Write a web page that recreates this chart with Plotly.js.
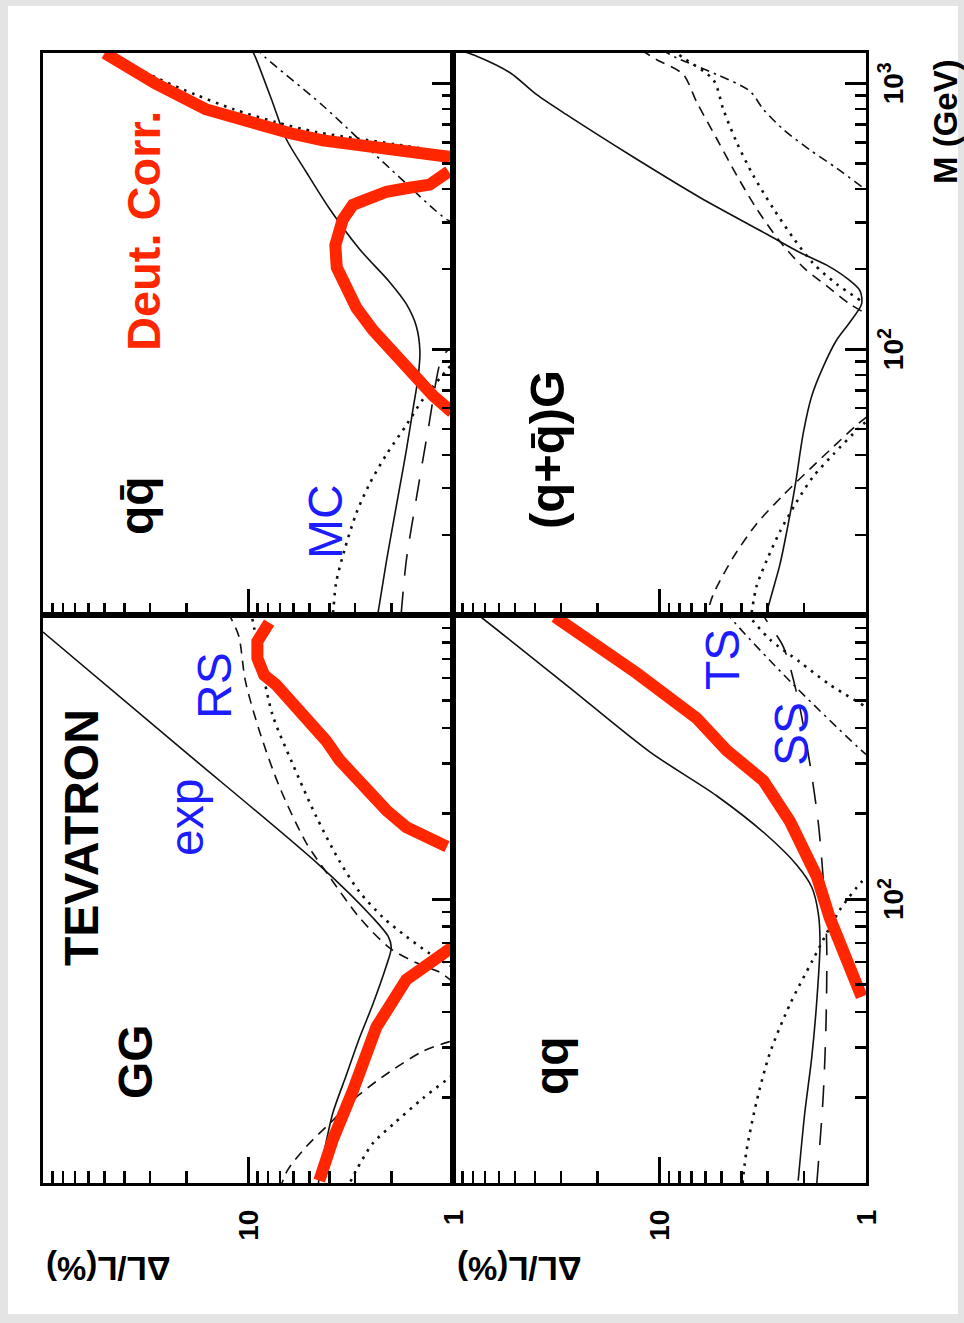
<!DOCTYPE html>
<html>
<head>
<meta charset="utf-8">
<script src="https://cdn.plot.ly/plotly-3.0.1.min.js"></script>
<style>
  html, body { margin: 0; padding: 0; width: 964px; height: 1323px; overflow: hidden; background: #e4e4e4; }
  #sheet { position: absolute; left: 8px; top: 6px; width: 950px; height: 1308px; background: #ffffff; }
  /* the figure is laid out landscape and turned a quarter turn counter-clockwise */
  #chart { position: absolute; left: 0; top: 0; width: 1323px; height: 964px;
           transform-origin: 0 0; transform: translateY(1323px) rotate(-90deg); }
</style>
</head>
<body>
<div id="sheet"></div>
<div id="chart"></div>
<script>
// ---------------- axis ticks ----------------
const massTicksLeft  = [100];
const massTextLeft   = ['10<sup>2</sup>'];
const massTicksRight = [100, 1000];
const massTextRight  = ['10<sup>2</sup>', '10<sup>3</sup>'];
const massMinor      = [20, 30, 40, 50, 60, 70, 80, 90, 200, 300, 400, 500, 600, 700, 800, 900];
const lumTicks       = [1, 10];
const lumText        = ['1', '10'];
const lumMinor       = [2, 3, 4, 5, 6, 7, 8, 9, 20, 30, 40, 50, 60, 70, 80, 90];

// ---------------- GG ----------------
const ggExpM     = [9.8, 10.5, 13.0, 17.6, 23.9, 32.4, 42.6, 57.8, 67.3, 73.8, 85.9, 131.6, 339, 871];
const ggExpDL    = [4.55, 4.49, 4.24, 3.86, 3.32, 2.86, 2.46, 2.12, 2.00, 2.07, 2.46, 4.49, 21.2, 100];
const ggDashUpM  = [51, 55.2, 59.6, 67.3, 86, 120, 158, 250, 394, 586, 845, 985, 1050];
const ggDashUpDL = [1.0, 1.16, 1.51, 2.04, 2.86, 4.01, 5.21, 7.05, 8.83, 10.3, 11.1, 12.2, 12.8];
const ggDashLoM  = [9.5, 11.1, 13.4, 16.6, 20.5, 24.6, 29.1, 31.4, 32];
const ggDashLoDL = [7.0, 6.41, 5.21, 3.86, 2.86, 2.04, 1.40, 1.05, 0.95];
const ggDotUpM   = [57.8, 64.3, 73.8, 86, 106, 136, 196, 300, 446, 683, 970, 1050];
const ggDotUpDL  = [1.01, 1.30, 1.69, 2.19, 2.86, 3.58, 4.66, 6.07, 7.60, 8.67, 9.53, 9.8];
const ggDotLoM   = [9.5, 11.1, 13.8, 16.1, 19.9, 23.9, 24.5];
const ggDotLoDL  = [3.3, 2.96, 2.46, 1.96, 1.40, 1.01, 0.97];
const ggCorrUpM  = [153, 179, 205, 258, 309, 361, 453, 569, 614, 705, 807, 940];
const ggCorrUpDL = [1.07, 1.69, 2.11, 2.86, 3.58, 4.16, 5.42, 7.31, 8.34, 9.0, 9.0, 7.89];
const ggCorrLoM  = [10.2, 14.2, 21.1, 35.5, 52, 66.4, 68];
const ggCorrLoDL = [4.49, 3.86, 3.08, 2.36, 1.69, 1.09, 1.0];

// ---------------- q qbar ----------------
const qqbExpM     = [10.2, 16.0, 22.0, 30.2, 41.5, 60.8, 78.4, 98, 122, 148, 179, 238, 338, 465, 620, 851, 1247, 1320];
const qqbExpDL    = [2.32, 2.11, 1.96, 1.82, 1.69, 1.56, 1.48, 1.45, 1.51, 1.69, 2.04, 2.86, 4.01, 5.21, 6.53, 7.60, 9.17, 9.5];
const qqbDashDotM  = [300, 307, 480, 825, 1247, 1350];
const qqbDashDotDL = [0.98, 1.07, 2.04, 4.32, 8.19, 9.1];
const qqbDotUpM   = [537, 554, 589, 620, 656, 714, 798, 906, 1047, 1227, 1350];
const qqbDotUpDL  = [1.0, 1.18, 1.89, 2.96, 4.66, 7.31, 11.7, 18.0, 27.8, 41.3, 50];
const qqbDotLoM   = [9.5, 10.1, 13.2, 17.6, 24.2, 31.2, 40.2, 51.8, 64.8, 83.6, 90];
const qqbDotLoDL  = [3.95, 3.86, 3.72, 3.38, 2.96, 2.55, 2.11, 1.69, 1.40, 1.07, 0.98];
const qqbLongM    = [10.1, 16.0, 27.4, 50.2, 91.8, 100];
const qqbLongDL   = [1.79, 1.69, 1.51, 1.32, 1.14, 1.05];
const qqbCorrUpM  = [528, 554, 572, 610, 650, 726, 799, 1000, 1208, 1300];
const qqbCorrUpDL = [1.03, 1.69, 2.46, 4.32, 6.29, 10.3, 16.1, 28.4, 44.6, 50];
const qqbCorrLoM  = [466, 416, 403, 391, 361, 349, 307, 246, 203, 173, 143, 118, 101, 81, 66.8, 57.9];
const qqbCorrLoDL = [1.05, 1.30, 1.69, 2.11, 2.75, 3.08, 3.45, 3.75, 3.69, 3.38, 2.96, 2.46, 2.04, 1.62, 1.25, 1.01];

// ---------------- q q ----------------
const qqExpM      = [10.2, 17.6, 27.8, 44.0, 69.4, 88.5, 110, 132, 168, 231, 329, 578, 1000, 1100];
const qqExpDL     = [2.13, 1.98, 1.83, 1.73, 1.67, 1.70, 1.83, 2.17, 3.03, 5.29, 11.1, 29.2, 75.4, 90];
const qqCorrM     = [45.3, 86, 120, 187, 261, 334, 433, 624, 985];
const qqCorrDL    = [1.05, 1.50, 1.73, 2.33, 3.14, 4.73, 6.61, 12.9, 32.1];
const qqDotLoM    = [10.0, 13.0, 19.3, 28.7, 42.7, 61.5, 91.4, 115, 120];
const qqDotLoDL   = [3.96, 3.79, 3.39, 2.92, 2.33, 1.80, 1.34, 1.05, 0.98];
const qqDotUpM    = [481, 569, 683, 820, 1000, 1050];
const qqDotUpDL   = [1.03, 1.50, 2.09, 2.92, 3.72, 3.9];
const qqDashDotM  = [320, 329, 569, 985, 1050];
const qqDashDotDL = [0.98, 1.03, 2.25, 4.56, 4.8];
const qqLongM     = [10.0, 20.5, 37.8, 69.4, 110, 184, 300, 503, 771, 955, 1050];
const qqLongDL    = [1.73, 1.61, 1.56, 1.55, 1.60, 1.70, 1.87, 2.13, 2.51, 3.03, 3.3];

// ---------------- (q+qbar) G ----------------
const qgExpM      = [10.2, 12.0, 15.5, 20.6, 30.2, 48.6, 66.8, 86, 108, 126, 148, 166, 185, 207, 231, 271, 372, 528, 762, 906, 1096, 1265, 1320];
const qgExpDL     = [3.03, 2.86, 2.61, 2.42, 2.21, 2.01, 1.83, 1.61, 1.39, 1.20, 1.05, 1.07, 1.24, 1.55, 2.09, 3.03, 6.37, 13.4, 28.2, 39.3, 52.9, 76.7, 90];
const qgDashUpM   = [139, 148, 173, 203, 254, 338, 451, 620, 851, 1080, 1227, 1320];
const qgDashUpDL  = [1.05, 1.20, 1.55, 2.01, 2.61, 3.39, 4.23, 5.29, 6.61, 7.68, 10.3, 12];
const qgDotUpM    = [153, 176, 210, 262, 338, 451, 600, 798, 1030, 1247, 1320];
const qgDotUpDL   = [1.07, 1.39, 1.80, 2.25, 2.81, 3.52, 4.23, 4.91, 5.48, 7.68, 8.5];
const qgDashDotM  = [409, 480, 562, 670, 798, 935, 1080, 1247, 1320];
const qgDashDotDL = [1.05, 1.39, 1.87, 2.51, 3.14, 3.65, 5.29, 8.26, 9.5];
const qgDashLoM   = [9.5, 10.1, 12.0, 16.5, 22.0, 28.3, 35.4, 42.9, 51.8, 56];
const qgDashLoDL  = [6.1, 5.91, 5.48, 4.39, 3.39, 2.51, 1.87, 1.44, 1.11, 0.98];
const qgDotLoM    = [10.2, 12.8, 16.0, 20.6, 26.6, 33.2, 40.2, 50.2, 54];
const qgDotLoDL   = [3.58, 3.39, 3.03, 2.61, 2.17, 1.80, 1.44, 1.09, 0.98];

// ---------------- styling ----------------
const FONT = 'Liberation Sans, Arial, Helvetica, sans-serif';
const RED = '#ff2600';
const BLUE = '#1c1cff';
const STYLE = {
  solid:    { color: '#111', width: 1.6, dash: 'solid' },
  dash:     { color: '#111', width: 1.6, dash: '10px,7px' },
  longdash: { color: '#111', width: 1.6, dash: '22px,16px' },
  dot:      { color: '#111', width: 2.6, dash: '2.6px,6px' },
  dashdot:  { color: '#111', width: 1.6, dash: '9px,5px,2.5px,5px' }
};

const panels = {
  gg:  ['x', 'y'],
  qqb: ['x2', 'y2'],
  qq:  ['x3', 'y3'],
  qg:  ['x4', 'y4']
};

function curve(panel, m, dl, style) {
  return {
    type: 'scatter', mode: 'lines', x: m, y: dl,
    xaxis: panels[panel][0], yaxis: panels[panel][1],
    line: Object.assign({ shape: 'spline', smoothing: 0.8 }, STYLE[style]),
    hoverinfo: 'skip'
  };
}
function corr(panel, m, dl) {
  return {
    type: 'scatter', mode: 'lines', x: m, y: dl,
    xaxis: panels[panel][0], yaxis: panels[panel][1],
    line: { color: RED, width: 12, shape: 'linear' },
    hoverinfo: 'skip'
  };
}

const traces = [
  curve('gg', ggExpM, ggExpDL, 'solid'),
  curve('gg', ggDashUpM, ggDashUpDL, 'dash'),
  curve('gg', ggDashLoM, ggDashLoDL, 'dash'),
  curve('gg', ggDotUpM, ggDotUpDL, 'dot'),
  curve('gg', ggDotLoM, ggDotLoDL, 'dot'),

  curve('qqb', qqbExpM, qqbExpDL, 'solid'),
  curve('qqb', qqbDashDotM, qqbDashDotDL, 'dashdot'),
  curve('qqb', qqbDotUpM, qqbDotUpDL, 'dot'),
  curve('qqb', qqbDotLoM, qqbDotLoDL, 'dot'),
  curve('qqb', qqbLongM, qqbLongDL, 'longdash'),

  curve('qq', qqExpM, qqExpDL, 'solid'),
  curve('qq', qqDotLoM, qqDotLoDL, 'dot'),
  curve('qq', qqDotUpM, qqDotUpDL, 'dot'),
  curve('qq', qqDashDotM, qqDashDotDL, 'dashdot'),
  curve('qq', qqLongM, qqLongDL, 'longdash'),

  curve('qg', qgExpM, qgExpDL, 'solid'),
  curve('qg', qgDashUpM, qgDashUpDL, 'dash'),
  curve('qg', qgDotUpM, qgDotUpDL, 'dot'),
  curve('qg', qgDashDotM, qgDashDotDL, 'dashdot'),
  curve('qg', qgDashLoM, qgDashLoDL, 'dash'),
  curve('qg', qgDotLoM, qgDotLoDL, 'dot'),

  corr('gg', ggCorrUpM, ggCorrUpDL),
  corr('gg', ggCorrLoM, ggCorrLoDL),
  corr('qqb', qqbCorrUpM, qqbCorrUpDL),
  corr('qqb', qqbCorrLoM, qqbCorrLoDL),
  corr('qq', qqCorrM, qqCorrDL)
];

// ---------------- frame geometry (landscape pixels) ----------------
const FIG_W = 1323, FIG_H = 964;
const L = 140, T = 43, W = 1130, H = 823;
const colSplit = 568 / W;          // left column spans 10 .. 1000 GeV
const rowSplit = (H - 410) / H;    // upper row height

function P(px, py) { return { x: (px - L) / W, y: (T + H - py) / H }; }

function massAxis(domain, anchor, range, vals, texts, showLabels) {
  return {
    type: 'log', domain: domain, anchor: anchor, range: range,
    showgrid: false, zeroline: false, showline: true, mirror: true,
    linecolor: '#000', linewidth: 3,
    ticks: 'inside', ticklen: 21, tickwidth: 3, tickcolor: '#000',
    tickmode: 'array', tickvals: vals, ticktext: texts,
    showticklabels: showLabels, ticklabelstandoff: 0,
    tickfont: { family: FONT, size: 28, color: '#000', weight: 'bold' },
    minor: { ticks: 'inside', ticklen: 11, tickwidth: 2.5, tickcolor: '#000',
             tickmode: 'array', tickvals: massMinor, showgrid: false }
  };
}
function lumAxis(domain, anchor, showLabels) {
  return {
    type: 'log', domain: domain, anchor: anchor, range: [0, 2],
    showgrid: false, zeroline: false, showline: true, mirror: true,
    linecolor: '#000', linewidth: 3,
    ticks: 'inside', ticklen: 26, tickwidth: 3, tickcolor: '#000',
    tickmode: 'array', tickvals: lumTicks, ticktext: lumText,
    showticklabels: showLabels, ticklabelstandoff: 18,
    tickfont: { family: FONT, size: 28, color: '#000', weight: 'bold' },
    minor: { ticks: 'inside', ticklen: 12, tickwidth: 2.5, tickcolor: '#000',
             tickmode: 'array', tickvals: lumMinor, showgrid: false }
  };
}

function label(text, px, py, color, size, opts) {
  const p = P(px, py);
  return Object.assign({
    xref: 'paper', yref: 'paper', x: p.x, y: p.y, text: text, showarrow: false,
    xanchor: 'center', yanchor: 'middle',
    font: { family: FONT, size: size, color: color }
  }, opts || {});
}

const annotations = [
  label('<b>GG</b>', 261, 135, '#000', 48),
  label('<b>TEVATRON</b>', 485, 81, '#000', 48),
  label('exp', 505, 186, BLUE, 48),
  label('RS', 637, 215, BLUE, 48),
  label('<b>qq\u0304</b>', 817, 136, '#000', 48),
  label('MC', 801, 325, BLUE, 48),
  label('<b>Deut. Corr.</b>', 1092, 143, RED, 47),
  label('<b>qq</b>', 257, 551, '#000', 48),
  label('TS', 663, 722, BLUE, 48),
  label('SS', 589, 791, BLUE, 48),
  label('<b>(q+q\u0304)G</b>', 873, 547, '#000', 49),
  label('<b>M (GeV)</b>', 1266, 945, '#000', 33, { xanchor: 'right' }),
  label('<b>\u0394L/L(%)</b>', 55, 44, '#000', 33, { textangle: -90, yanchor: 'top' }),
  label('<b>\u0394L/L(%)</b>', 55, 455, '#000', 33, { textangle: -90, yanchor: 'top' })
];

const layout = {
  width: FIG_W, height: FIG_H,
  margin: { l: L, r: FIG_W - L - W, t: T, b: FIG_H - T - H, pad: 0 },
  paper_bgcolor: 'rgba(0,0,0,0)', plot_bgcolor: '#ffffff',
  showlegend: false,
  font: { family: FONT, color: '#000' },
  xaxis:  massAxis([0, colSplit], 'y',  [1, 3],     massTicksLeft,  massTextLeft,  false),
  xaxis2: massAxis([colSplit, 1], 'y2', [1, 3.114], massTicksRight, massTextRight, false),
  xaxis3: massAxis([0, colSplit], 'y3', [1, 3],     massTicksLeft,  massTextLeft,  true),
  xaxis4: massAxis([colSplit, 1], 'y4', [1, 3.114], massTicksRight, massTextRight, true),
  yaxis:  lumAxis([rowSplit, 1], 'x',  true),
  yaxis2: lumAxis([rowSplit, 1], 'x2', false),
  yaxis3: lumAxis([0, rowSplit], 'x3', true),
  yaxis4: lumAxis([0, rowSplit], 'x4', false),
  annotations: annotations
};

Plotly.newPlot('chart', traces, layout, { staticPlot: true, displayModeBar: false });
</script>
</body>
</html>
